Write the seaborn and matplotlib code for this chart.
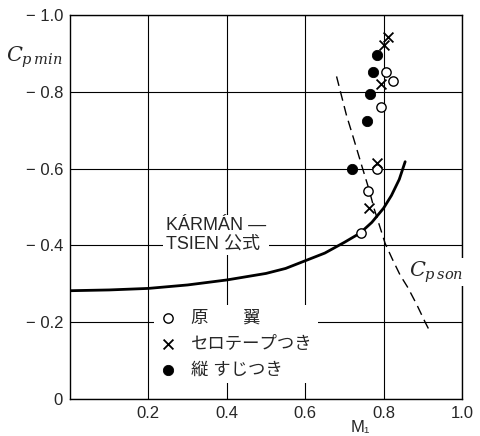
import matplotlib
matplotlib.use("Agg")
import matplotlib.pyplot as plt
import seaborn as sns
import pandas as pd
import numpy as np


# Data

# Kármán-Tsien curve (M1, Cp_min)
kt_mach = [0.0, 0.1, 0.2, 0.3, 0.4, 0.5, 0.55, 0.6, 0.65, 0.7, 0.74, 0.77, 0.8, 0.82, 0.84, 0.855]
kt_cp = [-0.282, -0.284, -0.288, -0.297, -0.310, -0.327, -0.340, -0.360, -0.380, -0.408,
         -0.432, -0.460, -0.497, -0.530, -0.572, -0.618]

# Cp_son curve (dashed)
son_mach = [0.680, 0.690, 0.705, 0.723, 0.745, 0.763, 0.776, 0.790, 0.804, 0.822, 0.842, 0.862, 0.885, 0.906, 0.917]
son_cp = [-0.840, -0.800, -0.740, -0.680, -0.605, -0.545, -0.495, -0.450, -0.405, -0.365,
          -0.323, -0.290, -0.245, -0.200, -0.178]

# measured points
orig_mach = [0.805, 0.823, 0.793, 0.782, 0.761, 0.742]
orig_cp = [-0.852, -0.829, -0.761, -0.598, -0.542, -0.433]

tape_mach = [0.810, 0.802, 0.793, 0.782, 0.763]
tape_cp = [-0.943, -0.922, -0.820, -0.614, -0.497]

strip_mach = [0.782, 0.772, 0.765, 0.757, 0.720]
strip_cp = [-0.896, -0.852, -0.794, -0.724, -0.598]

series_names = ["原　　翼", "セロテープつき", "縦 すじつき"]

x_ticks = [0.2, 0.4, 0.6, 0.8, 1.0]
x_tick_labels = ["0.2", "0.4", "0.6", "0.8", "1.0"]
y_ticks = [-1.0, -0.8, -0.6, -0.4, -0.2, 0.0]
y_tick_labels = ["\u2212 1.0", "\u2212 0.8", "\u2212 0.6", "\u2212 0.4", "\u2212 0.2", "0"]


sns.set_style("white")
fonts = ["Liberation Sans", "Noto Sans CJK JP", "DejaVu Sans"]
plt.rcParams["font.family"] = fonts
plt.rcParams["mathtext.fontset"] = "dejavuserif"

fig = plt.figure(figsize=(4.81, 4.36), dpi=100)
ax = fig.add_axes([70 / 481, 37 / 436, 392 / 481, 384 / 436])

kt = pd.DataFrame({"M": kt_mach, "Cp": kt_cp})
son = pd.DataFrame({"M": son_mach, "Cp": son_cp})
sns.lineplot(data=kt, x="M", y="Cp", ax=ax, color="black", lw=2.0, sort=False, zorder=3)
sns.lineplot(data=son, x="M", y="Cp", ax=ax, color="black", lw=1.0, sort=False,
             zorder=3).lines[-1].set_dashes([7, 4])

sns.scatterplot(x=orig_mach, y=orig_cp, ax=ax, marker="o", s=45, facecolor="white",
                edgecolor="black", linewidth=1.0, label=series_names[0], zorder=4)
sns.scatterplot(x=tape_mach, y=tape_cp, ax=ax, marker="x", s=50, color="black",
                linewidth=1.3, label=series_names[1], zorder=4)
sns.scatterplot(x=strip_mach, y=strip_cp, ax=ax, marker="o", s=55, color="black",
                edgecolor="black", label=series_names[2], zorder=4)

ax.set_xlim(0, 1.0)
ax.set_ylim(0, -1.0)
ax.set_xticks(x_ticks)
ax.set_xticklabels(x_tick_labels, fontsize=12)
ax.set_yticks(y_ticks)
ax.set_yticklabels(y_tick_labels, fontsize=12)
ax.tick_params(length=0, pad=5)
ax.grid(True, color="black", lw=0.8)
for s in ax.spines.values():
  s.set_color("black")
  s.set_linewidth(1.0)

ax.set_xlabel("M\u2081", fontsize=12)
ax.xaxis.set_label_coords(0.74, -0.055)
ax.set_ylabel("")
ax.text(-0.09, 0.89, r"$C_{p\,min}$", transform=ax.transAxes, fontsize=15,
        ha="center", va="center")
ax.text(0.935, -0.33, r"$C_{p\,son}$", fontsize=15, ha="center", va="center",
        bbox=dict(facecolor="white", edgecolor="none", pad=1))

ax.text(0.245, -0.427, "KÁRMÁN —\nTSIEN 公式", fontsize=13, ha="left", va="center",
        linespacing=1.1, bbox=dict(facecolor="white", edgecolor="none", pad=2), zorder=2)

leg = ax.legend(loc="upper left", bbox_to_anchor=(0.2135, 0.245), frameon=True,
                fontsize=12.5, handlelength=1.0, handletextpad=0.85, labelspacing=0.6,
                borderpad=0.3, borderaxespad=0)
leg.get_frame().set_facecolor("white")
leg.get_frame().set_edgecolor("none")
leg.get_frame().set_alpha(1.0)

fig.savefig("out.png", dpi=100)
